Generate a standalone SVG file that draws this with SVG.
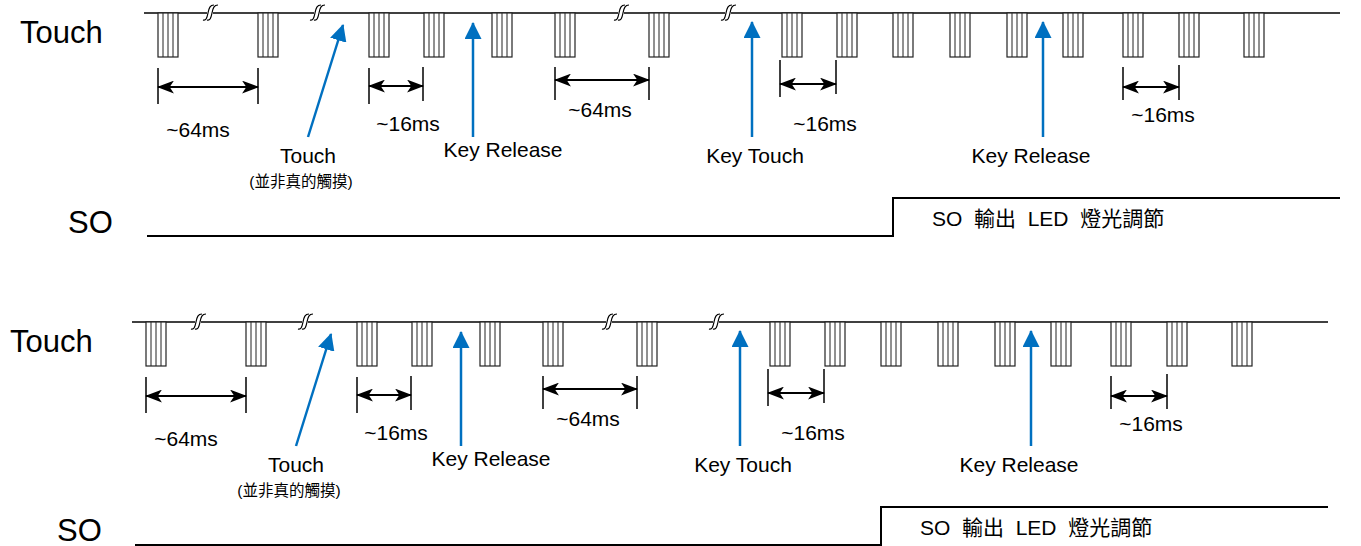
<svg xmlns="http://www.w3.org/2000/svg" width="1361" height="546" viewBox="0 0 1361 546">
<style>
.base{stroke:#000;stroke-width:1.3;fill:none}
.so{stroke:#000;stroke-width:2;fill:none}
.pulse rect{fill:#fff;stroke:#222;stroke-width:1.2}
.pulse line{stroke:#222;stroke-width:1}
.tick{stroke:#000;stroke-width:1.5}
.dim{stroke:#000;stroke-width:2;fill:none}
.blue{stroke:#0070C0;stroke-width:2.5;fill:none}
.brk{stroke:#000;stroke-width:1.2;fill:none}
.big{font-family:"Liberation Sans",Arial,sans-serif;font-size:31px;fill:#000}
.lbl{font-family:"Liberation Sans",Arial,sans-serif;font-size:21px;fill:#000}
.cjk{font-family:"Liberation Sans","Noto Sans CJK TC",sans-serif;font-size:15.5px;fill:#000}
.sot{font-family:"Liberation Sans","Noto Sans CJK TC",sans-serif;font-size:21px;fill:#000}
</style>
<defs>
<marker id="ah" viewBox="0 0 16 12" refX="15" refY="6" markerWidth="17" markerHeight="13" markerUnits="userSpaceOnUse" orient="auto-start-reverse">
<path d="M0,0 L16,6 L0,12 L4,6 z" fill="#000"/>
</marker>
<marker id="bh" viewBox="0 0 16 16" refX="15" refY="8" markerWidth="17" markerHeight="17" markerUnits="userSpaceOnUse" orient="auto">
<path d="M0,0 L16,8 L0,16 z" fill="#0070C0"/>
</marker>
<g id="pulse" class="pulse">
<rect x="0" y="0" width="20" height="44"/>
<line x1="5" y1="0" x2="5" y2="44"/>
<line x1="10" y1="0" x2="10" y2="44"/>
<line x1="15" y1="0" x2="15" y2="44"/>
</g>
<g id="brk">
<rect x="-5" y="-3" width="6" height="6" fill="#fff"/>
<path class="brk" d="M-9,7 C-6,8 -5,5 -4,0 C-3,-5 -2,-8 2,-8"/>
<path class="brk" d="M-5,7 C-2,8 -1,5 0,0 C1,-5 2,-8 6,-8"/>
</g>
</defs>

<g id="labels">
<text class="big" x="20" y="43">Touch</text>
<text class="big" x="68" y="233">SO</text>
<text class="big" x="10" y="352">Touch</text>
<text class="big" x="57" y="541">SO</text>
</g>

<g id="panel-top">
<g id="touch-line-top">
<line class="base" x1="144" y1="13" x2="1340" y2="13"/>
</g>
<g id="pulses-top">
<use href="#pulse" x="158" y="13"/>
<use href="#pulse" x="258" y="13"/>
<use href="#pulse" x="369" y="13"/>
<use href="#pulse" x="424" y="13"/>
<use href="#pulse" x="492" y="13"/>
<use href="#pulse" x="555" y="13"/>
<use href="#pulse" x="649" y="13"/>
<use href="#pulse" x="782" y="13"/>
<use href="#pulse" x="837" y="13"/>
<use href="#pulse" x="893" y="13"/>
<use href="#pulse" x="950" y="13"/>
<use href="#pulse" x="1007" y="13"/>
<use href="#pulse" x="1063" y="13"/>
<use href="#pulse" x="1123" y="13"/>
<use href="#pulse" x="1179" y="13"/>
<use href="#pulse" x="1244" y="13"/>
</g>
<g id="breaks-top">
<use href="#brk" x="212" y="13"/>
<use href="#brk" x="319" y="13"/>
<use href="#brk" x="623" y="13"/>
<use href="#brk" x="730" y="13"/>
</g>
<g id="dims-top">
<line class="tick" x1="158" y1="68" x2="158" y2="104"/><line class="tick" x1="258" y1="68" x2="258" y2="104"/>
<line class="dim" x1="158" y1="87" x2="258" y2="87" marker-start="url(#ah)" marker-end="url(#ah)"/>
<text class="lbl" x="198" y="137" text-anchor="middle">~64ms</text>
<line class="tick" x1="369" y1="68" x2="369" y2="104"/><line class="tick" x1="423" y1="67" x2="423" y2="101"/>
<line class="dim" x1="369" y1="86" x2="423" y2="86" marker-start="url(#ah)" marker-end="url(#ah)"/>
<text class="lbl" x="408" y="131" text-anchor="middle">~16ms</text>
<line class="tick" x1="555" y1="67" x2="555" y2="100"/><line class="tick" x1="649" y1="67" x2="649" y2="100"/>
<line class="dim" x1="555" y1="80" x2="649" y2="80" marker-start="url(#ah)" marker-end="url(#ah)"/>
<text class="lbl" x="600" y="117" text-anchor="middle">~64ms</text>
<line class="tick" x1="780" y1="60" x2="780" y2="97"/><line class="tick" x1="836" y1="60" x2="836" y2="94"/>
<line class="dim" x1="780" y1="84" x2="836" y2="84" marker-start="url(#ah)" marker-end="url(#ah)"/>
<text class="lbl" x="825" y="131" text-anchor="middle">~16ms</text>
<line class="tick" x1="1123" y1="67" x2="1123" y2="100"/><line class="tick" x1="1179" y1="65" x2="1179" y2="100"/>
<line class="dim" x1="1123" y1="87" x2="1179" y2="87" marker-start="url(#ah)" marker-end="url(#ah)"/>
<text class="lbl" x="1163" y="122" text-anchor="middle">~16ms</text>
</g>
<g id="connectors-top">
<line class="blue" x1="308" y1="137" x2="343" y2="25" marker-end="url(#bh)"/>
<line class="blue" x1="473" y1="137" x2="473" y2="23" marker-end="url(#bh)"/>
<line class="blue" x1="752" y1="137" x2="752" y2="22" marker-end="url(#bh)"/>
<line class="blue" x1="1043" y1="137" x2="1043" y2="22" marker-end="url(#bh)"/>
</g>
<g id="event-labels-top">
<text class="lbl" x="308" y="163" text-anchor="middle">Touch</text>
<text class="cjk" x="301" y="187" text-anchor="middle">(並非真的觸摸)</text>
<text class="lbl" x="503" y="157" text-anchor="middle">Key Release</text>
<text class="lbl" x="755" y="163" text-anchor="middle">Key Touch</text>
<text class="lbl" x="1031" y="163" text-anchor="middle">Key Release</text>
</g>
<g id="so-top">
<polyline class="so" points="147,236 893,236 893,198 1340,198"/>
<text class="sot" x="932" y="226" xml:space="preserve">SO  輸出  LED  燈光調節</text>
</g>
</g>

<g id="panel-bottom" transform="translate(-12,309)">
<g id="touch-line-bottom">
<line class="base" x1="144" y1="13" x2="1340" y2="13"/>
</g>
<g id="pulses-bottom">
<use href="#pulse" x="158" y="13"/>
<use href="#pulse" x="258" y="13"/>
<use href="#pulse" x="369" y="13"/>
<use href="#pulse" x="424" y="13"/>
<use href="#pulse" x="492" y="13"/>
<use href="#pulse" x="555" y="13"/>
<use href="#pulse" x="649" y="13"/>
<use href="#pulse" x="782" y="13"/>
<use href="#pulse" x="837" y="13"/>
<use href="#pulse" x="893" y="13"/>
<use href="#pulse" x="950" y="13"/>
<use href="#pulse" x="1007" y="13"/>
<use href="#pulse" x="1063" y="13"/>
<use href="#pulse" x="1123" y="13"/>
<use href="#pulse" x="1179" y="13"/>
<use href="#pulse" x="1244" y="13"/>
</g>
<g id="breaks-bottom">
<use href="#brk" x="212" y="13"/>
<use href="#brk" x="319" y="13"/>
<use href="#brk" x="623" y="13"/>
<use href="#brk" x="730" y="13"/>
</g>
<g id="dims-bottom">
<line class="tick" x1="158" y1="68" x2="158" y2="104"/><line class="tick" x1="258" y1="68" x2="258" y2="104"/>
<line class="dim" x1="158" y1="87" x2="258" y2="87" marker-start="url(#ah)" marker-end="url(#ah)"/>
<text class="lbl" x="198" y="137" text-anchor="middle">~64ms</text>
<line class="tick" x1="369" y1="68" x2="369" y2="104"/><line class="tick" x1="423" y1="67" x2="423" y2="101"/>
<line class="dim" x1="369" y1="86" x2="423" y2="86" marker-start="url(#ah)" marker-end="url(#ah)"/>
<text class="lbl" x="408" y="131" text-anchor="middle">~16ms</text>
<line class="tick" x1="555" y1="67" x2="555" y2="100"/><line class="tick" x1="649" y1="67" x2="649" y2="100"/>
<line class="dim" x1="555" y1="80" x2="649" y2="80" marker-start="url(#ah)" marker-end="url(#ah)"/>
<text class="lbl" x="600" y="117" text-anchor="middle">~64ms</text>
<line class="tick" x1="780" y1="60" x2="780" y2="97"/><line class="tick" x1="836" y1="60" x2="836" y2="94"/>
<line class="dim" x1="780" y1="84" x2="836" y2="84" marker-start="url(#ah)" marker-end="url(#ah)"/>
<text class="lbl" x="825" y="131" text-anchor="middle">~16ms</text>
<line class="tick" x1="1123" y1="67" x2="1123" y2="100"/><line class="tick" x1="1179" y1="65" x2="1179" y2="100"/>
<line class="dim" x1="1123" y1="87" x2="1179" y2="87" marker-start="url(#ah)" marker-end="url(#ah)"/>
<text class="lbl" x="1163" y="122" text-anchor="middle">~16ms</text>
</g>
<g id="connectors-bottom">
<line class="blue" x1="308" y1="137" x2="343" y2="25" marker-end="url(#bh)"/>
<line class="blue" x1="473" y1="137" x2="473" y2="23" marker-end="url(#bh)"/>
<line class="blue" x1="752" y1="137" x2="752" y2="22" marker-end="url(#bh)"/>
<line class="blue" x1="1043" y1="137" x2="1043" y2="22" marker-end="url(#bh)"/>
</g>
<g id="event-labels-bottom">
<text class="lbl" x="308" y="163" text-anchor="middle">Touch</text>
<text class="cjk" x="301" y="187" text-anchor="middle">(並非真的觸摸)</text>
<text class="lbl" x="503" y="157" text-anchor="middle">Key Release</text>
<text class="lbl" x="755" y="163" text-anchor="middle">Key Touch</text>
<text class="lbl" x="1031" y="163" text-anchor="middle">Key Release</text>
</g>
<g id="so-bottom">
<polyline class="so" points="147,236 893,236 893,198 1340,198"/>
<text class="sot" x="932" y="226" xml:space="preserve">SO  輸出  LED  燈光調節</text>
</g>
</g>
</svg>
